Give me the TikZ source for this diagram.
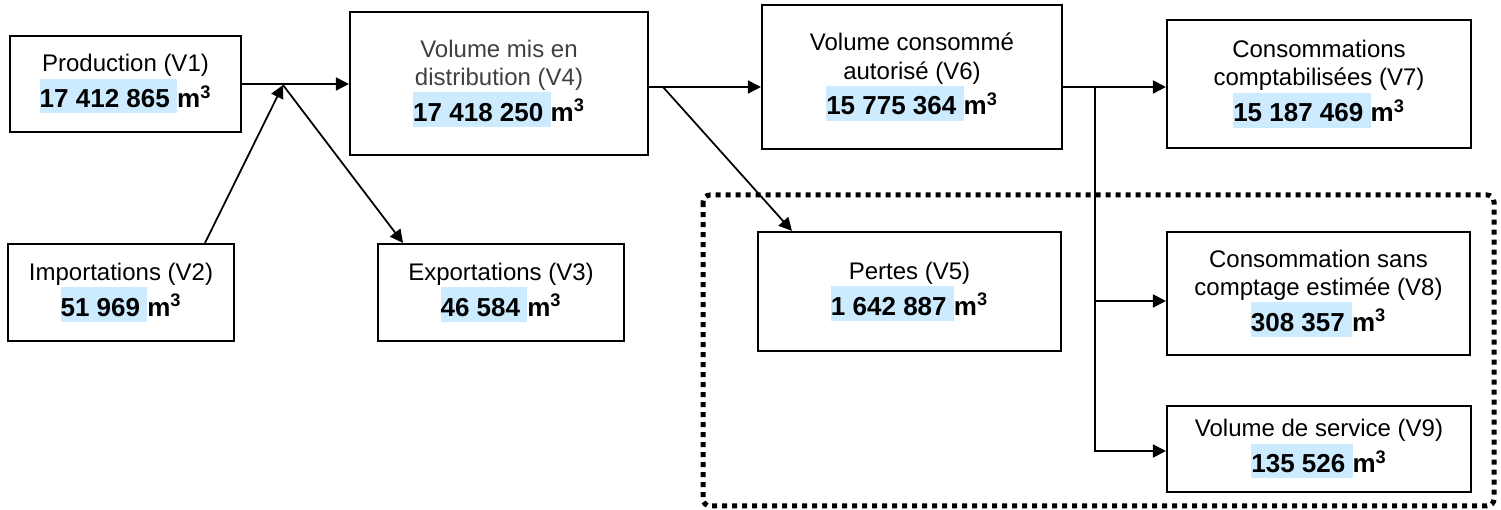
\documentclass[tikz,border=0pt]{standalone}
\usepackage{fontspec}
\setmainfont{Liberation Sans}
\usetikzlibrary{arrows.meta}
\definecolor{hlblue}{RGB}{204,235,255}
\newcommand\hl[1]{{\setlength{\fboxsep}{0pt}\colorbox{hlblue}{\rule[-0.23em]{0pt}{1.34em}#1}}}
\newcommand\vol[1]{{\fontsize{14.8}{17}\selectfont\bfseries\hl{#1\ }m\textsuperscript{3}}}

\begin{document}
\begin{tikzpicture}[>={Triangle[length=7.4pt,width=7.4pt]},
  box/.style={draw,line width=1.2pt,align=center,font=\fontsize{13.66}{16}\selectfont},
  flow/.style={->,line width=1pt}]
\useasboundingbox (0,0) rectangle (30.02,-10.2);
% cadre pointille
\draw[line width=0.1cm,dash pattern=on 0.1cm off 0.1cm,rounded corners=4pt] (14.06,-3.90) rectangle (29.88,-10.12);
% volumes
\node[box,minimum width=4.62cm,minimum height=1.92cm] (v1) at(2.51,-1.68){Production (V1)\\\vol{17 412 865}};
\node[box,minimum width=4.52cm,minimum height=1.94cm] (v2) at(2.42,-5.85){Importations (V2)\\\vol{51 969}};
\node[box,minimum width=4.92cm,minimum height=1.94cm] (v3) at(10.02,-5.85){Exportations (V3)\\\vol{46 584}};
\node[box,minimum width=5.96cm,minimum height=2.86cm] (v4) at(9.98,-1.67){\textcolor{black!75}{Volume mis en}\\\textcolor{black!75}{distribution (V4)}\\\vol{17 418 250}};
\node[box,minimum width=6.06cm,minimum height=2.38cm] (v5) at(18.19,-5.83){Pertes (V5)\\\vol{1 642 887}};
\node[box,minimum width=6.00cm,minimum height=2.88cm] (v6) at(18.24,-1.54){Volume consommé\\autorisé (V6)\\\vol{15 775 364}};
\node[box,minimum width=6.08cm,minimum height=2.56cm] (v7) at(26.38,-1.68){Consommations\\comptabilisées (V7)\\\vol{15 187 469}};
\node[box,minimum width=6.06cm,minimum height=2.46cm] (v8) at(26.37,-5.87){Consommation sans\\comptage estimée (V8)\\\vol{308 357}};
\node[box,minimum width=6.08cm,minimum height=1.72cm] (v9) at(26.38,-8.98){Volume de service (V9)\\\vol{135 526}};
% flux
\coordinate (j1) at(5.66,-1.70);\coordinate (j2) at(13.26,-1.74);\coordinate (j3) at(21.90,-1.74);
\draw[flow] (v1.east) -- (v1.east-|v4.west);
\draw[flow] ([xshift=1.68cm]v2.north) -- (j1);
\draw[flow] (j1) -- ([xshift=-1.96cm]v3.north);
\draw[flow] (v4.east|-j2) -- (v6.west|-j2);
\draw[flow] (j2) -- ([xshift=-2.35cm]v5.north);
\draw[flow] (v6.east|-j3) -- (v7.west|-j3);
\draw[flow] (j3) |- ([yshift=-0.15cm]v8.west);
\draw[flow] (j3) |- ([yshift=-0.04cm]v9.west);
\end{tikzpicture}
\end{document}
